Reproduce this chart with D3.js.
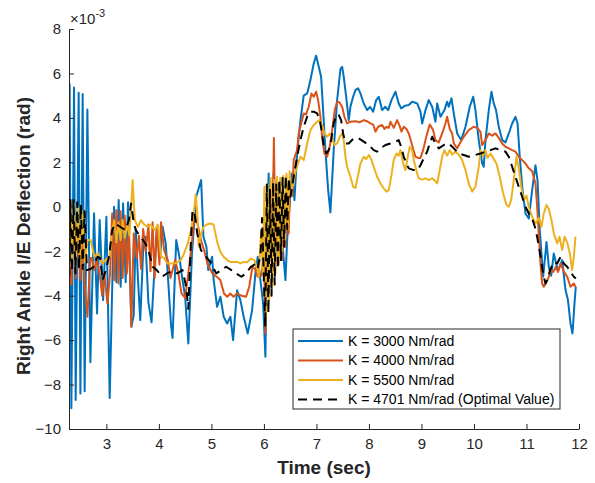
<!DOCTYPE html>
<html>
<head>
<meta charset="utf-8">
<script src="https://cdn.jsdelivr.net/npm/d3@7"></script>
<style>
  body { margin: 0; background: #fff; }
  svg { font-family: "Liberation Sans", Arial, Helvetica, sans-serif; }
</style>
</head>
<body>
<script>
const width = 595;
const height = 483;

// values are in units of 1e-3 rad
const t3000 = [2.30, 2.333, 2.384, 2.415, 2.472, 2.505, 2.548, 2.586, 2.638, 2.695, 2.765, 2.822, 2.872, 2.937, 3.0, 3.063, 3.146, 3.19, 3.234, 3.272, 3.318, 3.367, 3.413, 3.476, 3.52, 3.56, 3.60, 3.645, 3.70, 3.74, 3.80, 3.86, 3.92, 3.96, 4.02, 4.07, 4.13, 4.18, 4.23, 4.26, 4.33, 4.39, 4.44, 4.50, 4.56, 4.63, 4.71, 4.804, 4.848, 4.905, 4.94, 5.013, 5.043, 5.108, 5.171, 5.234, 5.299, 5.362, 5.413, 5.489, 5.552, 5.615, 5.691, 5.775, 5.838, 5.882, 5.933, 5.985, 6.028, 6.06, 6.09, 6.123, 6.186, 6.251, 6.282, 6.346, 6.41, 6.442, 6.505, 6.537, 6.581, 6.632, 6.695, 6.758, 6.823, 6.886, 6.948, 6.994, 7.044, 7.089, 7.127, 7.171, 7.223, 7.266, 7.329, 7.394, 7.457, 7.489, 7.52, 7.566, 7.615, 7.647, 7.699, 7.743, 7.794, 7.838, 7.901, 7.966, 8.02, 8.08, 8.137, 8.187, 8.251, 8.31, 8.366, 8.428, 8.505, 8.567, 8.613, 8.69, 8.758, 8.823, 8.918, 8.981, 9.013, 9.077, 9.139, 9.204, 9.266, 9.299, 9.362, 9.438, 9.489, 9.52, 9.571, 9.615, 9.68, 9.756, 9.838, 9.92, 9.985, 10.028, 10.091, 10.156, 10.186, 10.219, 10.282, 10.333, 10.377, 10.42, 10.472, 10.537, 10.6, 10.663, 10.727, 10.79, 10.83, 10.872, 10.918, 10.981, 11.044, 11.108, 11.171, 11.21, 11.253, 11.318, 11.381, 11.425, 11.47, 11.52, 11.6, 11.68, 11.743, 11.79, 11.838, 11.876, 11.914, 11.939];
const k3000 = [5.55, -9.07, 5.37, -8.7, 5.13, -8.4, 5.07, -8.3, 4.38, -7.0, -0.29, -4.8, -0.6, -4.2, -0.45, -8.6, 0.0, -3.4, 0.3, -3.6, 0.16, -3.4, 0.2, -5.4, -4.9, -1.0, -3.2, -5.1, -2.0, -1.35, -4.3, -5.2, -2.6, -1.05, -2.3, -0.9, -1.65, -3.45, -5.3, -5.9, -1.5, -2.25, -3.15, -4.05, -6.15, -2.1, 0.45, 1.2, -1.35, -1.8, -2.85, -2.25, -3.3, -4.5, -4.05, -4.95, -5.25, -4.95, -6.0, -3.76, -4.2, -4.95, -5.7, -4.65, -3.0, -2.25, -3.3, -4.35, -6.75, -1.35, 1.5, -2.4, 1.5, -0.9, 1.05, -1.5, -3.3, -1.5, 0.6, 1.5, 0.3, 2.4, 3.9, 5.0, 5.1, 5.7, 6.45, 6.8, 6.3, 5.85, 4.35, 2.55, 0.75, -0.25, 2.55, 4.8, 6.2, 6.3, 5.85, 4.95, 3.9, 4.5, 4.95, 5.25, 5.33, 5.1, 4.65, 4.35, 4.5, 4.28, 4.8, 4.95, 4.35, 4.5, 4.35, 4.8, 5.18, 4.65, 4.43, 4.55, 4.58, 4.73, 4.65, 4.28, 3.75, 4.35, 4.8, 4.5, 3.83, 4.65, 4.05, 4.35, 4.73, 4.5, 4.88, 4.2, 3.3, 3.0, 3.6, 4.5, 4.95, 4.35, 3.0, 1.95, 1.8, 3.0, 4.35, 5.18, 4.65, 4.35, 3.6, 3.0, 2.9, 3.3, 3.75, 4.05, 3.75, 2.25, 0.9, -0.3, -0.53, 0.75, 1.87, 1.2, -1.05, -3.15, -1.58, -2.7, -3.1, -2.1, -2.9, -2.4, -3.75, -4.2, -5.25, -5.7, -4.35, -3.6];

const t4000 = [2.30, 2.333, 2.36, 2.384, 2.415, 2.45, 2.505, 2.53, 2.586, 2.638, 2.695, 2.72, 2.77, 2.82, 2.87, 2.92, 2.96, 3.02, 3.07, 3.11, 3.15, 3.19, 3.23, 3.27, 3.31, 3.35, 3.39, 3.43, 3.476, 3.52, 3.58, 3.62, 3.66, 3.70, 3.75, 3.80, 3.84, 3.88, 3.92, 3.96, 4.01, 4.04, 4.10, 4.17, 4.22, 4.31, 4.37, 4.43, 4.50, 4.56, 4.62, 4.68, 4.74, 4.80, 4.86, 4.93, 5.02, 5.10, 5.17, 5.24, 5.30, 5.36, 5.42, 5.49, 5.57, 5.66, 5.72, 5.78, 5.83, 5.88, 5.95, 6.0, 6.03, 6.06, 6.09, 6.12, 6.155, 6.19, 6.22, 6.25, 6.28, 6.31, 6.345, 6.38, 6.41, 6.44, 6.47, 6.50, 6.54, 6.567, 6.632, 6.663, 6.709, 6.758, 6.80, 6.853, 6.905, 6.948, 6.994, 7.032, 7.076, 7.108, 7.152, 7.204, 7.253, 7.299, 7.349, 7.394, 7.438, 7.489, 7.533, 7.584, 7.647, 7.743, 7.82, 7.901, 7.96, 8.028, 8.08, 8.124, 8.175, 8.251, 8.295, 8.333, 8.377, 8.409, 8.472, 8.537, 8.575, 8.619, 8.663, 8.714, 8.758, 8.804, 8.842, 8.886, 8.937, 8.981, 9.032, 9.076, 9.108, 9.158, 9.222, 9.266, 9.33, 9.394, 9.457, 9.489, 9.539, 9.584, 9.615, 9.68, 9.742, 9.805, 9.9, 9.996, 10.06, 10.123, 10.156, 10.219, 10.282, 10.346, 10.41, 10.472, 10.537, 10.60, 10.663, 10.727, 10.79, 10.853, 10.918, 10.981, 11.044, 11.108, 11.171, 11.203, 11.234, 11.266, 11.298, 11.329, 11.38, 11.425, 11.46, 11.51, 11.56, 11.60, 11.65, 11.71, 11.775, 11.838, 11.901, 11.935];
const k4000 = [-2.3, -3.5, -0.8, -0.5, -3.2, -0.6, -3.3, -0.9, -3.5, -4.95, -2.3, -2.3, -2.85, -2.4, -3.0, -4.0, -3.0, -4.35, -3.0, -0.3, -3.3, -0.15, -3.45, -0.2, -3.2, -0.4, -3.0, -1.0, -5.4, -1.2, -2.3, -1.3, -2.8, -1.0, -2.0, -0.8, -2.9, -0.7, -3.2, -0.9, -2.6, -0.7, -1.95, -2.4, -3.2, -2.4, -3.0, -3.9, -4.1, -3.0, -1.8, -0.3, -0.8, -1.5, -1.95, -2.6, -3.0, -3.15, -3.3, -3.9, -4.05, -3.9, -4.05, -3.9, -4.0, -4.05, -3.6, -2.7, -2.8, -3.15, -3.1, -2.1, -5.7, -1.0, -4.0, 0.5, -2.5, 3.1, -2.0, 1.2, -2.6, 0.8, -2.4, 0.6, -1.8, 0.8, -1.2, 1.0, 0.5, 2.1, 2.55, 3.3, 3.75, 4.2, 4.15, 4.5, 5.1, 4.95, 5.18, 4.8, 4.05, 3.15, 2.4, 2.25, 2.7, 3.45, 4.35, 4.73, 4.7, 4.5, 4.05, 3.75, 3.83, 3.85, 3.8, 3.9, 3.85, 3.75, 3.7, 3.38, 3.6, 3.68, 3.5, 3.6, 3.55, 3.83, 3.55, 3.9, 3.7, 3.38, 3.6, 3.5, 3.3, 2.93, 2.6, 2.25, 2.2, 2.2, 2.55, 3.0, 3.3, 3.7, 3.45, 3.0, 2.9, 3.3, 3.75, 4.05, 3.5, 3.3, 2.85, 2.63, 2.9, 3.15, 3.45, 3.6, 3.55, 3.38, 2.78, 3.0, 3.3, 3.2, 3.3, 3.1, 2.85, 2.7, 2.63, 2.55, 2.48, 2.25, 2.1, 1.95, 1.73, 1.6, 1.05, 0.0, -1.2, -2.55, -3.45, -3.6, -3.4, -3.15, -2.9, -2.93, -2.7, -2.93, -2.55, -2.9, -3.15, -3.6, -3.45, -3.6];

const t5500 = [2.30, 2.32, 2.35, 2.38, 2.42, 2.46, 2.50, 2.54, 2.59, 2.64, 2.70, 2.77, 2.84, 2.92, 2.98, 3.06, 3.11, 3.15, 3.19, 3.23, 3.27, 3.31, 3.35, 3.40, 3.44, 3.50, 3.54, 3.60, 3.66, 3.72, 3.78, 3.84, 3.92, 3.98, 4.04, 4.10, 4.16, 4.22, 4.30, 4.36, 4.42, 4.48, 4.55, 4.61, 4.67, 4.70, 4.73, 4.76, 4.79, 4.85, 4.91, 4.98, 5.04, 5.11, 5.17, 5.23, 5.30, 5.36, 5.49, 5.55, 5.62, 5.68, 5.75, 5.82, 5.87, 5.90, 5.95, 5.98, 6.01, 6.04, 6.07, 6.10, 6.13, 6.16, 6.19, 6.22, 6.25, 6.28, 6.31, 6.34, 6.37, 6.40, 6.43, 6.46, 6.49, 6.52, 6.55, 6.60, 6.695, 6.758, 6.823, 6.886, 6.948, 7.013, 7.057, 7.108, 7.152, 7.204, 7.253, 7.299, 7.343, 7.394, 7.444, 7.489, 7.52, 7.552, 7.584, 7.647, 7.699, 7.743, 7.787, 7.838, 7.901, 7.947, 7.997, 8.042, 8.091, 8.156, 8.219, 8.282, 8.333, 8.377, 8.423, 8.472, 8.524, 8.567, 8.60, 8.651, 8.695, 8.739, 8.777, 8.823, 8.853, 8.918, 8.949, 9.013, 9.076, 9.139, 9.204, 9.248, 9.299, 9.343, 9.394, 9.438, 9.489, 9.539, 9.584, 9.647, 9.71, 9.775, 9.838, 9.90, 9.965, 10.028, 10.091, 10.123, 10.175, 10.219, 10.257, 10.314, 10.365, 10.428, 10.491, 10.556, 10.619, 10.663, 10.708, 10.758, 10.81, 10.853, 10.899, 10.949, 11.0, 11.044, 11.108, 11.171, 11.234, 11.286, 11.329, 11.381, 11.425, 11.476, 11.52, 11.585, 11.628, 11.68, 11.724, 11.775, 11.825, 11.87, 11.901, 11.933];
const k5500 = [-1.6, 0.2, -2.5, 0.15, -2.5, 0.0, -2.55, -0.2, -2.5, -1.5, -1.5, -2.25, -2.1, -2.55, -2.4, -2.25, -1.05, -0.6, -1.6, -0.7, -1.5, -0.6, -1.4, -0.8, -1.3, 1.2, -0.6, -0.9, -0.6, -0.8, -0.9, -0.8, -1.05, -0.8, -2.25, -2.3, -2.55, -2.55, -2.55, -2.48, -2.4, -2.1, -1.65, -1.05, -0.15, 0.55, -0.3, -1.8, -1.35, -0.9, -0.8, -0.75, -0.8, -1.58, -2.03, -2.25, -2.4, -2.48, -2.48, -2.55, -2.48, -2.5, -2.33, -2.4, -2.78, -3.15, -1.05, -3.0, 0.9, -4.9, 1.0, -4.2, 1.3, -3.6, 1.2, -3.0, 1.35, -2.4, 1.3, -2.0, 1.4, -1.5, 1.5, -1.0, 1.6, 0.8, 0.9, 1.6, 2.25, 2.1, 2.85, 3.45, 3.68, 3.83, 3.9, 3.68, 3.3, 3.15, 3.3, 3.08, 2.78, 2.85, 3.15, 3.3, 3.0, 2.25, 1.8, 1.35, 0.9, 0.85, 1.35, 1.95, 2.25, 2.15, 2.33, 2.15, 1.8, 1.35, 1.05, 0.83, 0.68, 0.75, 1.35, 2.1, 2.4, 2.3, 2.55, 1.95, 1.65, 2.25, 2.7, 2.55, 2.1, 1.5, 1.28, 1.22, 1.28, 1.2, 1.28, 1.2, 1.05, 1.6, 2.25, 2.55, 2.3, 2.55, 2.35, 2.48, 2.35, 2.1, 1.65, 1.05, 0.68, 0.9, 1.8, 2.55, 2.3, 2.55, 2.2, 2.4, 2.2, 1.95, 1.35, 0.6, 0.08, 0.0, 0.3, 1.2, 2.25, 1.75, 0.9, 0.3, 0.5, 0.0, -0.45, -0.75, -0.5, -0.9, -0.3, 0.08, -0.1, -0.6, -1.2, -1.65, -1.35, -1.95, -1.35, -1.6, -2.1, -2.85, -2.25, -1.35];

const t4701 = [2.295, 2.315, 2.345, 2.375, 2.41, 2.445, 2.48, 2.515, 2.55, 2.585, 2.63, 2.70, 2.76, 2.83, 2.88, 2.93, 2.99, 3.05, 3.11, 3.17, 3.26, 3.36, 3.43, 3.47, 3.52, 3.56, 3.65, 3.74, 3.80, 3.88, 3.96, 4.06, 4.15, 4.25, 4.35, 4.45, 4.52, 4.56, 4.61, 4.64, 4.68, 4.73, 4.80, 4.90, 5.00, 5.09, 5.19, 5.28, 5.38, 5.47, 5.57, 5.66, 5.75, 5.82, 5.88, 5.935, 5.965, 5.995, 6.025, 6.055, 6.085, 6.115, 6.145, 6.175, 6.205, 6.235, 6.265, 6.295, 6.325, 6.355, 6.385, 6.415, 6.445, 6.475, 6.505, 6.567, 6.632, 6.695, 6.758, 6.823, 6.886, 6.948, 7.013, 7.063, 7.108, 7.14, 7.19, 7.234, 7.28, 7.329, 7.38, 7.425, 7.47, 7.508, 7.552, 7.615, 7.71, 7.806, 7.901, 7.997, 8.091, 8.156, 8.219, 8.314, 8.409, 8.505, 8.567, 8.613, 8.663, 8.714, 8.758, 8.85, 8.93, 8.981, 9.044, 9.108, 9.158, 9.204, 9.266, 9.33, 9.425, 9.52, 9.615, 9.71, 9.806, 9.90, 10.028, 10.123, 10.219, 10.314, 10.41, 10.505, 10.60, 10.663, 10.727, 10.79, 10.853, 10.918, 10.981, 11.044, 11.108, 11.159, 11.203, 11.248, 11.286, 11.329, 11.361, 11.393, 11.45, 11.52, 11.585, 11.65, 11.71, 11.775, 11.838, 11.901, 11.94];
const k4701 = [-3.15, 0.3, -2.9, 0.3, -3.0, 0.2, -2.8, 0.1, -2.8, -0.2, -2.85, -2.8, -2.7, -2.25, -2.3, -3.3, -2.85, -2.25, -1.05, -0.75, -0.9, -1.05, -0.6, 0.15, -0.7, -1.05, -1.35, -1.65, -1.95, -2.7, -2.85, -3.15, -3.0, -2.9, -3.0, -2.85, -3.6, -4.6, -1.5, -0.15, -0.3, -1.2, -1.95, -2.25, -2.55, -3.0, -2.85, -2.7, -2.85, -3.0, -3.15, -3.0, -2.7, -2.6, -2.8, -2.1, -0.5, -3.0, -5.4, 1.0, -4.8, 0.8, -4.0, 1.1, -3.5, 1.0, -2.8, 1.2, -2.4, 1.3, -1.8, 1.4, -1.0, 1.3, 0.45, 1.35, 2.25, 3.0, 3.6, 4.05, 4.28, 4.28, 4.2, 3.9, 3.3, 2.7, 2.4, 2.55, 3.0, 3.75, 4.13, 4.13, 3.9, 3.3, 2.85, 2.85, 3.08, 3.08, 2.93, 2.78, 2.55, 2.48, 2.63, 2.78, 2.85, 2.93, 3.0, 2.7, 2.25, 1.95, 1.73, 1.65, 1.65, 1.87, 2.18, 2.48, 2.85, 3.15, 2.85, 2.63, 2.78, 2.85, 2.63, 2.4, 2.33, 2.25, 2.33, 2.4, 2.48, 2.55, 2.63, 2.55, 2.48, 2.25, 1.8, 1.35, 0.9, 0.45, 0.0, -0.3, -0.53, -0.9, -1.35, -1.95, -2.55, -3.15, -3.45, -3.3, -2.85, -2.48, -2.55, -2.25, -2.55, -2.7, -2.93, -3.15, -3.23];

const xTicks = [3, 4, 5, 6, 7, 8, 9, 10, 11, 12];
const yTicks = [-10, -8, -6, -4, -2, 0, 2, 4, 6, 8];

const seriesNames = ["K = 3000 Nm/rad", "K = 4000 Nm/rad", "K = 5500 Nm/rad", "K = 4701 Nm/rad (Optimal Value)"];
const seriesTimes = [t3000, t4000, t5500, t4701];
const seriesValues = [k3000, k4000, k5500, k4701];
const seriesColors = ["#0072BD", "#D95319", "#EDB120", "#000000"];
const seriesDash = [null, null, null, "9,6"];

const axisColor = "#262626";

const svg = d3.select("body").append("svg")
	.attr("width", width)
	.attr("height", height);

const x = d3.scaleLinear().domain([2.288, 12]).range([69, 579]);
const y = d3.scaleLinear().domain([-10, 8]).range([429, 29]);

svg.append("defs").append("clipPath").attr("id", "plotclip")
	.append("rect")
	.attr("x", 69).attr("y", 29)
	.attr("width", 510).attr("height", 400);

const line = d3.line()
	.x(function (d) { return x(d[0]); })
	.y(function (d) { return y(d[1]); });

const plot = svg.append("g").attr("clip-path", "url(#plotclip)");

seriesNames.forEach(function (name, i) {
	const pts = seriesTimes[i].map(function (t, j) { return [t, seriesValues[i][j]]; });
	plot.append("path")
		.datum(pts)
		.attr("fill", "none")
		.attr("stroke", seriesColors[i])
		.attr("stroke-width", 2)
		.attr("stroke-linejoin", "round")
		.attr("stroke-dasharray", seriesDash[i])
		.attr("d", line);
});

// axes (MATLAB style: ticks inside, no box)
const xAxis = svg.append("g")
	.attr("transform", "translate(0,429)")
	.call(d3.axisBottom(x).tickValues(xTicks).tickSizeInner(-5).tickSizeOuter(0).tickPadding(9));

const yAxis = svg.append("g")
	.attr("transform", "translate(69,0)")
	.call(d3.axisLeft(y).tickValues(yTicks).tickSizeInner(-5).tickSizeOuter(0).tickPadding(8));

[xAxis, yAxis].forEach(function (g) {
	g.select(".domain").attr("stroke", axisColor);
	g.selectAll(".tick line").attr("stroke", axisColor);
	g.selectAll(".tick text")
		.attr("fill", axisColor)
		.style("font-size", "15px")
		.style("font-family", "'Liberation Sans', Arial, Helvetica, sans-serif");
});

// exponent label
const expo = svg.append("text")
	.attr("x", 70)
	.attr("y", 24)
	.attr("fill", axisColor)
	.style("font-size", "15px");
expo.append("tspan").text("\u00d710");
expo.append("tspan").attr("dy", -7).style("font-size", "11px").text("-3");

svg.append("text")
	.attr("x", 324)
	.attr("y", 474)
	.attr("text-anchor", "middle")
	.attr("fill", axisColor)
	.style("font-size", "19px")
	.style("font-weight", "bold")
	.text("Time (sec)");

svg.append("text")
	.attr("transform", "translate(30,236) rotate(-90)")
	.attr("text-anchor", "middle")
	.attr("fill", axisColor)
	.style("font-size", "19px")
	.style("font-weight", "bold")
	.text("Right Ankle I/E Deflection (rad)");

// legend
const legend = svg.append("g").attr("transform", "translate(293,329)");
legend.append("rect")
	.attr("width", 267)
	.attr("height", 80)
	.attr("fill", "#fff")
	.attr("stroke", axisColor)
	.attr("stroke-width", 1);

seriesNames.forEach(function (name, i) {
	const ry = 12 + i * 19.5;
	legend.append("line")
		.attr("x1", 5).attr("x2", 50)
		.attr("y1", ry).attr("y2", ry)
		.attr("stroke", seriesColors[i])
		.attr("stroke-width", 2)
		.attr("stroke-dasharray", seriesDash[i]);
	legend.append("text")
		.attr("x", 55)
		.attr("y", ry)
		.attr("dy", "0.35em")
		.attr("fill", "#000")
		.style("font-size", "14px")
		.text(name);
});
</script>
</body>
</html>
